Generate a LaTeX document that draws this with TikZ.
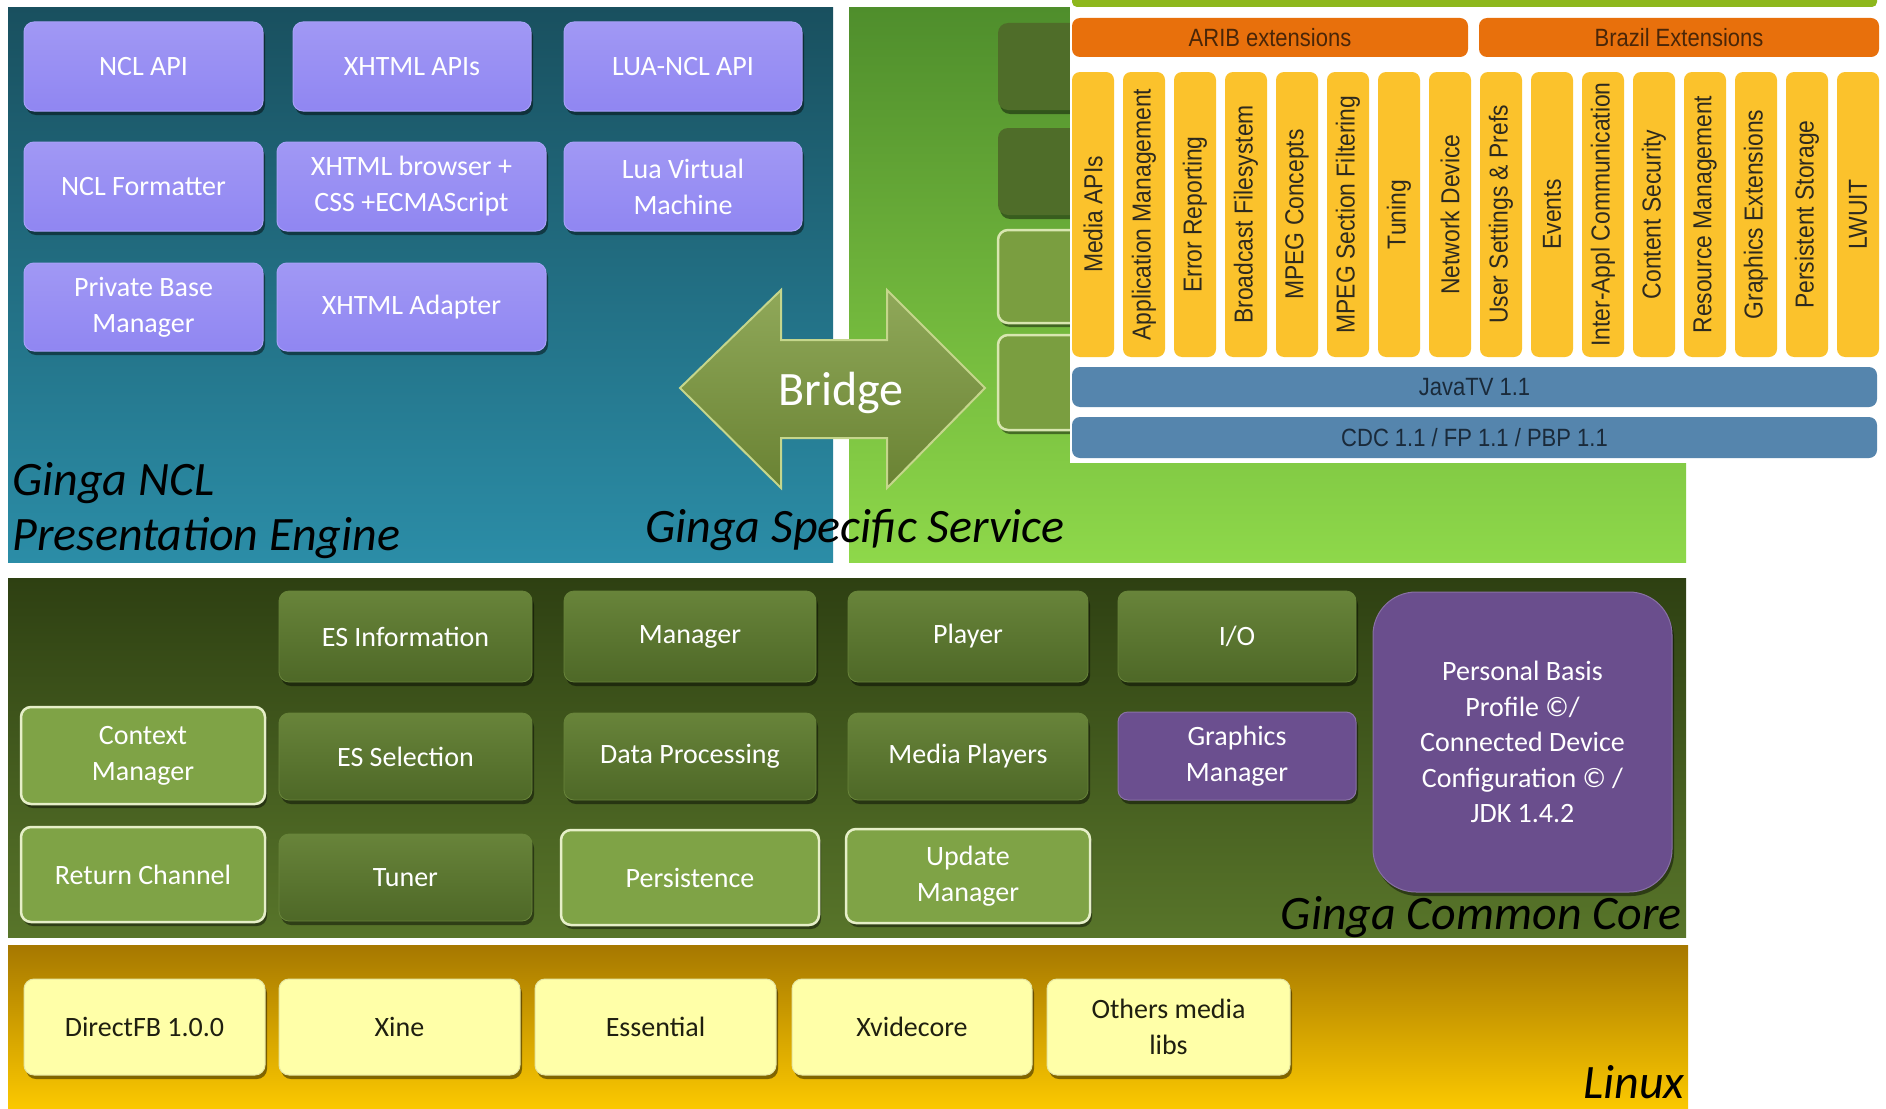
\documentclass[tikz,border=0pt]{standalone}
\usepackage{fontspec}
\setmainfont{Carlito}
\newfontfamily\javafont[FakeStretch=0.88]{Liberation Sans}
\usetikzlibrary{shadows}
\definecolor{ncltop}{HTML}{19505F}
\definecolor{nclbot}{HTML}{2B8DA7}
\definecolor{grtop}{HTML}{4F8E2C}
\definecolor{grbot}{HTML}{8ED84A}
\definecolor{cctop}{HTML}{2E4012}
\definecolor{ccbot}{HTML}{58752A}
\definecolor{lxtop}{HTML}{A67800}
\definecolor{lxbot}{HTML}{FBC800}
\definecolor{purpbox}{HTML}{9086F2}
\definecolor{purpedge}{HTML}{A8A0F8}
\definecolor{dktop}{HTML}{68843A}
\definecolor{dkbot}{HTML}{4E6827}
\definecolor{ltfill}{HTML}{7FA346}
\definecolor{ltedge}{HTML}{E6EFC8}
\definecolor{gmpurp}{HTML}{6B4F8F}
\definecolor{pbppurp}{HTML}{6A4E8D}
\definecolor{ylfill}{HTML}{FFFFA8}
\definecolor{yltext}{HTML}{1F1F10}
\definecolor{arrowfill}{HTML}{7C993C}
\definecolor{arrowedge}{HTML}{C5D68C}
\definecolor{orangebar}{HTML}{E8700C}
\definecolor{orangetext}{HTML}{4A2608}
\definecolor{colfill}{HTML}{FBC22C}
\definecolor{coltext}{HTML}{2E2A1E}
\definecolor{bluebar}{HTML}{5585AD}
\definecolor{bluetext}{HTML}{1A2A3A}
\definecolor{limebar}{HTML}{8DB71C}
\definecolor{stubdark}{HTML}{4F6D29}
\definecolor{stublight}{HTML}{7A9E40}
\definecolor{stubedge}{HTML}{D8E6B0}
\newcommand\bx[7]{\node[#2, minimum width={#5-#3}, minimum height={#6-#4}] (#1) at ({(#3+#5)/2},{(#4+#6)/2}) {#7};}
\begin{document}
\begin{tikzpicture}[x=1pt,y=-1pt,
  boxfont/.style={font=\fontsize{28}{36}\selectfont},
  lblfont/.style={font=\fontsize{48}{56}\selectfont\itshape},
  shad/.style={drop shadow={shadow xshift=2pt,shadow yshift=-4pt,opacity=0.45,fill=black}},
  nclbox/.style={boxfont, shad, rounded corners=10, top color=purpbox!85!white, bottom color=purpbox, draw=purpedge, line width=1, text=white, align=center, inner sep=0},
  dkbox/.style={boxfont, shad, rounded corners=10, top color=dktop, bottom color=dkbot, draw=dktop, line width=0.8, text=white, align=center, inner sep=0},
  ltbox/.style={boxfont, shad, rounded corners=10, fill=ltfill, draw=ltedge, line width=2.5, text=white, align=center, inner sep=0},
  gmbox/.style={boxfont, shad, rounded corners=10, fill=gmpurp, draw=gmpurp!80!white, line width=1, text=white, align=center, inner sep=0},
  pbpbox/.style={boxfont, shad, rounded corners=43, fill=pbppurp, draw=pbppurp!80!white, line width=1, text=white, align=center, inner sep=0},
  ylbox/.style={boxfont, shad, rounded corners=10, fill=ylfill, draw=ylfill!80!gray, line width=1, text=yltext, align=center, inner sep=0},
  stubd/.style={rounded corners=10, fill=stubdark, shad},
  stubl/.style={rounded corners=10, fill=stublight, draw=stubedge, line width=2.5, shad},
  orbar/.style={rounded corners=8, fill=orangebar, text=orangetext, font=\javafont\fontsize{25}{30}\selectfont, inner sep=0},
  colbox/.style={rounded corners=8, fill=colfill, text=coltext, font=\javafont\fontsize{26}{30}\selectfont, inner sep=0},
  blbar/.style={rounded corners=8, fill=bluebar, text=bluetext, font=\javafont\fontsize{25}{30}\selectfont, inner sep=0},
  lbl/.style={lblfont, text=black, inner sep=0}
]
\useasboundingbox (0,0) rectangle (1886,1108);
\clip (0,0) rectangle (1886,1108);
\fill[white] (0,0) rectangle (1886,1108);

% panels
\fill[top color=ncltop, bottom color=nclbot] (8,8) rectangle (833,562);
\fill[top color=grtop, bottom color=grbot] (849,8) rectangle (1686,562);
\fill[top color=cctop, bottom color=ccbot] (8,578) rectangle (1686,937);
\fill[top color=lxtop, bottom color=lxbot] (8,945) rectangle (1688,1108);

% Ginga NCL boxes
\bx{nclapi}{nclbox}{24}{22}{263}{111}{NCL API}
\bx{xhtmlapis}{nclbox}{293}{22}{531}{111}{XHTML APIs}
\bx{luancl}{nclbox}{564}{22}{802}{111}{LUA-NCL API}
\bx{nclform}{nclbox}{24}{142}{263}{231}{NCL Formatter}
\bx{xhtmlbr}{nclbox}{277}{142}{546}{231}{XHTML browser +\\CSS +ECMAScript}
\bx{luavm}{nclbox}{564}{142}{802}{231}{Lua Virtual\\Machine}
\bx{pbm}{nclbox}{24}{263}{263}{351}{Private Base\\Manager}
\bx{xhtmlad}{nclbox}{277}{263}{546}{351}{XHTML Adapter}

% green stubs (partly hidden)
\bx{stub1}{stubd}{998}{23}{1200}{110}{}
\bx{stub2}{stubd}{998}{128}{1200}{215}{}
\bx{stub3}{stubl}{998}{230}{1200}{323}{}
\bx{stub4}{stubl}{998}{335}{1200}{430}{}

% Java overlay
\fill[white] (1070,0) rectangle (1886,463);
\fill[limebar, rounded corners=5] (1072,-12) rectangle (1877,7);
\bx{arib}{orbar}{1072}{18}{1468}{57}{ARIB extensions}
\bx{brazil}{orbar}{1479}{18}{1879}{57}{Brazil Extensions}
\foreach \t [count=\i] in {Media APIs, Application Management, Error Reporting, Broadcast Filesystem, MPEG Concepts, MPEG Section Filtering, Tuning, Network Device, {User Settings \& Prefs}, Events, Inter-Appl Communication, Content Security, Resource Management, Graphics Extensions, Persistent Storage, LWUIT}{
  \node[colbox, rotate=90, minimum width=285, minimum height=42] (col\i) at ({1072+51*(\i-1)+21},214.5) {\t};
}
\bx{javatv}{blbar}{1072}{367}{1877}{407}{JavaTV 1.1}
\bx{cdc}{blbar}{1072}{417}{1877}{458}{CDC 1.1 / FP 1.1 / PBP 1.1}

% Bridge arrow
\draw[top color=arrowfill!85!white, bottom color=arrowfill!85!black, draw=arrowedge, line width=2, line join=miter]
  (680,388) -- (781,290) -- (781,340) -- (887,340) -- (887,290) -- (985,388)
  -- (887,488) -- (887,438) -- (781,438) -- (781,488) -- cycle;
\node[font=\fontsize{48}{56}\selectfont, text=white, anchor=base, inner sep=0] (bridge) at (841,405) {Bridge};

% labels
\node[lbl, anchor=base west] (ncl1) at (12,495) {Ginga NCL};
\node[lbl, anchor=base west] (ncl2) at (12,550) {Presentation Engine};
\node[lbl, anchor=base west] (gss) at (645,542) {Ginga Specific Service};

% Common core
\bx{esinfo}{dkbox}{279}{591}{532}{682}{ES Information}
\bx{mgr}{dkbox}{564}{591}{816}{682}{Manager}
\bx{player}{dkbox}{848}{591}{1088}{682}{Player}
\bx{io}{dkbox}{1118}{591}{1356}{682}{I/O}
\bx{ctx}{ltbox}{21}{707}{265}{804}{Context\\Manager}
\bx{essel}{dkbox}{279}{713}{532}{800}{ES Selection}
\bx{datap}{dkbox}{564}{713}{816}{800}{Data Processing}
\bx{mediap}{dkbox}{848}{713}{1088}{800}{Media Players}
\bx{gfx}{gmbox}{1118}{712}{1356}{800}{Graphics\\Manager}
\bx{retch}{ltbox}{21}{827}{265}{922}{Return Channel}
\bx{tuner}{dkbox}{279}{834}{532}{921}{Tuner}
\bx{persist}{ltbox}{561}{830}{819}{925}{Persistence}
\bx{update}{ltbox}{846}{829}{1090}{923}{Update\\Manager}
\node[pbpbox, minimum width=299, minimum height=300, font=\fontsize{28}{35.5}\selectfont] (pbp) at (1522.5,742) {Personal Basis\\Profile ©/\\Connected Device\\Configuration © /\\JDK 1.4.2};
\node[lbl, anchor=base east] (gcc) at (1682,929) {Ginga Common Core};

% Linux
\bx{directfb}{ylbox}{24}{979}{265}{1075}{DirectFB 1.0.0}
\bx{xine}{ylbox}{279}{979}{520}{1075}{Xine}
\bx{essential}{ylbox}{535}{979}{776}{1075}{Essential}
\bx{xvid}{ylbox}{792}{979}{1032}{1075}{Xvidecore}
\bx{others}{ylbox}{1047}{979}{1290}{1075}{Others media\\libs}
\node[lbl, anchor=base east] (linux) at (1685,1098) {Linux};
\end{tikzpicture}
\end{document}
